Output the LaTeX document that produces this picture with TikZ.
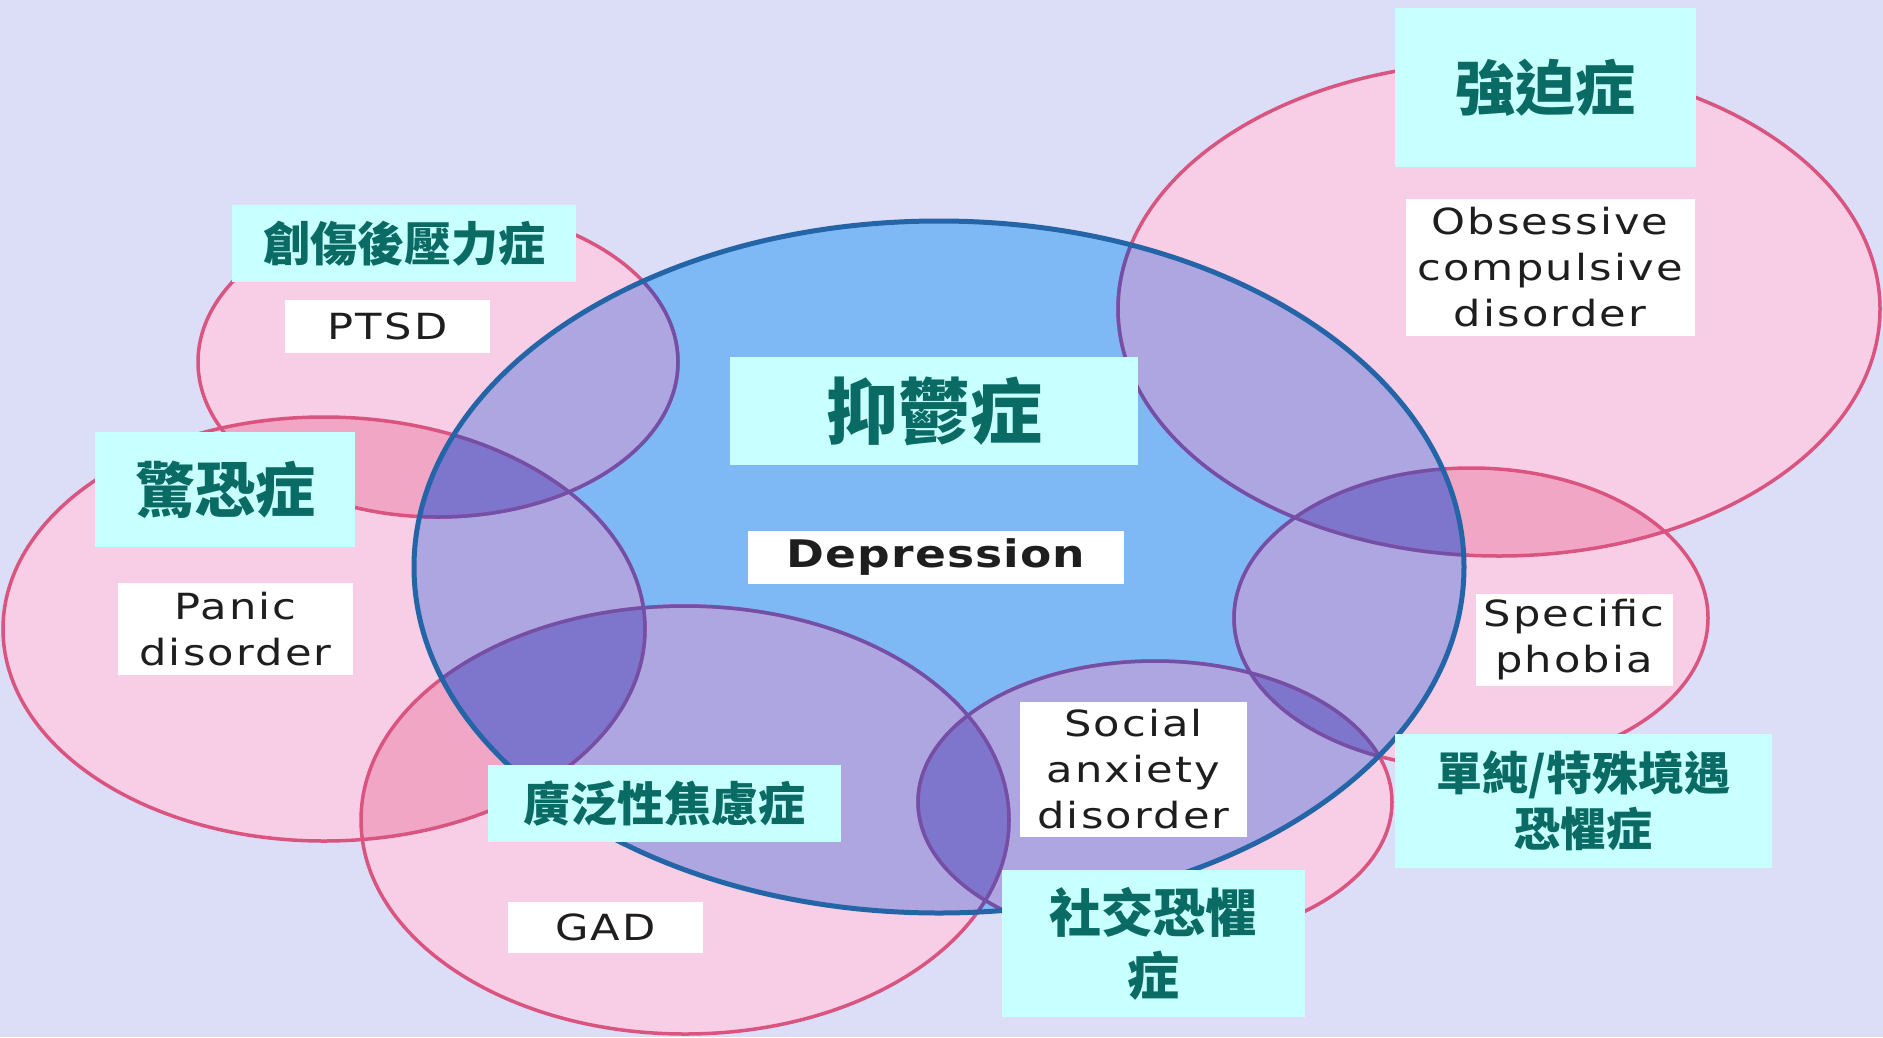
\documentclass[tikz,border=0pt]{standalone}
\usepackage{fontspec}
\newfontfamily\cjk{Noto Sans CJK TC}
\newfontfamily\lab{DejaVu Sans}[FakeStretch=1.2, LetterSpace=6]
\newfontfamily\labb{DejaVu Sans}[FakeStretch=1.2, LetterSpace=3]
\definecolor{bgc}{HTML}{DCDDF6}
\definecolor{pk}{HTML}{F8CDE6}
\definecolor{pk2}{HTML}{F2A6C6}
\definecolor{bl}{HTML}{7EB9F5}
\definecolor{pu}{HTML}{ADA6E0}
\definecolor{pu2}{HTML}{7D76CC}
\definecolor{pkline}{HTML}{D9547F}
\definecolor{puline}{HTML}{7050A8}
\definecolor{blline}{HTML}{2465A8}
\definecolor{cy}{HTML}{C8FFFF}
\definecolor{tl}{HTML}{0A6A64}
\definecolor{tx}{HTML}{1E1E1E}
\def\eBlue{(939,567) ellipse [x radius=525, y radius=346]}
\def\ePTSD{(438,362) ellipse [x radius=240, y radius=155]}
\def\ePanic{(324,629) ellipse [x radius=321, y radius=212]}
\def\eGAD{(685,820) ellipse [x radius=324, y radius=214]}
\def\eSoc{(1155,802) ellipse [x radius=237, y radius=141]}
\def\eSpec{(1471,618) ellipse [x radius=237, y radius=150]}
\def\eOCD{(1499,309) ellipse [x radius=381, y radius=247]}
\newcommand\mylens[3]{\begin{scope}\clip #1;\fill[#3] #2;\end{scope}}
\tikzset{
  zh/.style 2 args={fill=cy, text=tl, inner sep=0pt, align=center,
    font=\cjk\bfseries\fontsize{#1}{#2}\selectfont},
  en/.style={fill=white, text=tx, inner sep=0pt, align=center,
    font=\lab\fontsize{36}{46}\selectfont},
  pkedge/.style={draw=pkline, line width=3.5pt},
  puedge/.style={draw=puline, line width=3.5pt},
  bledge/.style={draw=blline, line width=5pt}
}
\begin{document}
\begin{tikzpicture}[x=1pt,y=-1pt]
\fill[bgc] (0,0) rectangle (1883,1037);
\useasboundingbox (0,0) rectangle (1883,1037);
% pink areas
\foreach \e in {\ePTSD,\ePanic,\eGAD,\eSoc,\eSpec,\eOCD} {\fill[pk] \e;}
\mylens{\ePTSD}{\ePanic}{pk2}
\mylens{\ePanic}{\eGAD}{pk2}
\mylens{\eGAD}{\eSoc}{pk2}
\mylens{\eSoc}{\eSpec}{pk2}
\mylens{\eSpec}{\eOCD}{pk2}
% blue
\fill[bl] \eBlue;
\begin{scope}
  \clip \eBlue;
  \foreach \e in {\ePTSD,\ePanic,\eGAD,\eSoc,\eSpec,\eOCD} {\fill[pu] \e;}
  \mylens{\ePTSD}{\ePanic}{pu2}
  \mylens{\ePanic}{\eGAD}{pu2}
  \mylens{\eGAD}{\eSoc}{pu2}
  \mylens{\eSoc}{\eSpec}{pu2}
  \mylens{\eSpec}{\eOCD}{pu2}
\end{scope}
% outlines
\foreach \e in {\ePTSD,\ePanic,\eGAD,\eSoc,\eSpec,\eOCD} {\path[pkedge] \e;}
\begin{scope}
  \clip \eBlue;
  \foreach \e in {\ePTSD,\ePanic,\eGAD,\eSoc,\eSpec,\eOCD} {\path[puedge] \e;}
\end{scope}
\path[bledge] \eBlue;
% English labels
\node[en, minimum width=205pt, minimum height=53pt] (ptsden) at (387.5,326.5) {PTSD};
\node[en, minimum width=289pt, minimum height=137pt] (ocden) at (1550,267.5) {Obsessive\\compulsive\\disorder};
\node[en, minimum width=376pt, minimum height=53pt, font=\labb\bfseries\fontsize{38}{46}\selectfont] (depen) at (936,557.5) {Depression};
\node[en, minimum width=235pt, minimum height=92pt] (panicen) at (235.5,629) {Panic\\disorder};
\node[en, minimum width=197pt, minimum height=92pt] (specen) at (1574,640) {Specific\\phobia};
\node[en, minimum width=227pt, minimum height=135pt] (socen) at (1133.5,769.5) {Social\\anxiety\\disorder};
\node[en, minimum width=195pt, minimum height=51pt] (gaden) at (605.5,927.5) {GAD};
% Chinese labels
\node[zh={60}{72}, minimum width=301pt, minimum height=159pt] (ocdzh) at (1545.5,87.5) {強迫症};
\node[zh={47}{56}, minimum width=344pt, minimum height=77pt] (ptsdzh) at (404,243.5) {創傷後壓力症};
\node[zh={72}{80}, minimum width=408pt, minimum height=108pt] (depzh) at (934,411) {抑鬱症};
\node[zh={60}{72}, minimum width=260pt, minimum height=115pt] (paniczh) at (225,489.5) {驚恐症};
\node[zh={47}{56}, minimum width=353pt, minimum height=77pt] (gadzh) at (664.5,803.5) {廣泛性焦慮症};
\node[zh={46}{56}, minimum width=377pt, minimum height=134pt] (speczh) at (1583.5,801) {單純/特殊境遇\\恐懼症};
\node[zh={52}{63}, minimum width=303pt, minimum height=147pt] (soczh) at (1153.5,943.5) {社交恐懼\\症};
\end{tikzpicture}
\end{document}
